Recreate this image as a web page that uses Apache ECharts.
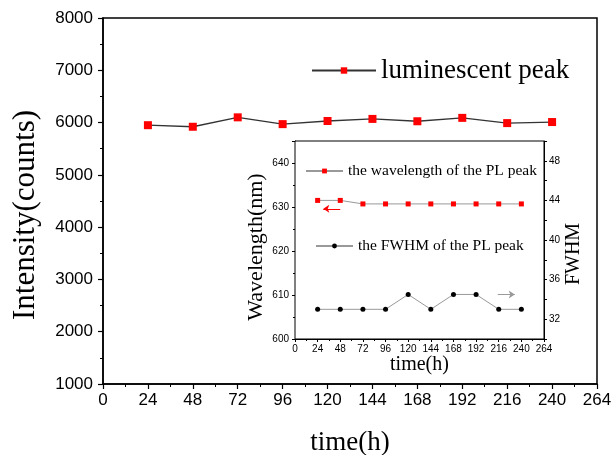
<!DOCTYPE html>
<html>
<head>
<meta charset="utf-8">
<script src="https://cdn.jsdelivr.net/npm/echarts@6/dist/echarts.min.js"></script>
<style>html,body{margin:0;padding:0;background:#fff}#c{width:612px;height:455px}</style>
</head>
<body>
<div id="c"></div>
<script>
// ---- data ----
const timeHours = [24, 48, 72, 96, 120, 144, 168, 192, 216, 240];
const intensity = [5950, 5920, 6100, 5970, 6030, 6070, 6025, 6090, 5990, 6010];
const wavelength = [631.5, 631.5, 630.7, 630.7, 630.7, 630.7, 630.7, 630.7, 630.7, 630.7];
const fwhm = [33, 33, 33, 33, 34.5, 33, 34.5, 34.5, 33, 33];
const mainSeriesName = 'luminescent peak';
const waveSeriesName = 'the wavelength of the PL peak';
const fwhmSeriesName = 'the FWHM of the PL peak';
// annotation arrows (data space): [from, to]
const arrowWave = [[48, 629.6], [30, 629.6]];
const arrowFwhm = [[215, 34.5], [233, 34.5]];

const serif = 'Liberation Serif, Times New Roman, serif';
const sans = 'Liberation Sans, Arial, sans-serif';

const pair = (xs, ys) => xs.map((x, i) => [x, ys[i]]);

const chart = echarts.init(document.getElementById('c'), null, {renderer: 'canvas'});
chart.setOption({
  animation: false,
  backgroundColor: '#fff',
  grid: [
    {left: 103, right: 15, top: 18, bottom: 71, show: true, borderColor: '#000', borderWidth: 1.5,
     backgroundColor: 'transparent', containLabel: false, outerBoundsMode: 'none'},
    {left: 295, right: 68, top: 141, bottom: 116, show: true, borderColor: '#000', borderWidth: 1,
     backgroundColor: '#fff', z: 5, containLabel: false, outerBoundsMode: 'none'}
  ],
  legend: [
    {
      data: [mainSeriesName], left: 306, top: 52, itemWidth: 64, itemHeight: 8,
      textStyle: {fontFamily: serif, fontSize: 27, color: '#000'}
    },
    {
      data: [waveSeriesName], left: 300, top: 158, itemWidth: 37, itemHeight: 6,
      textStyle: {fontFamily: serif, fontSize: 15.5, color: '#000'}, z: 10
    },
    {
      data: [fwhmSeriesName], left: 310, top: 233, itemWidth: 37, itemHeight: 6,
      textStyle: {fontFamily: serif, fontSize: 15.5, color: '#000'}, z: 10
    }
  ],
  xAxis: [
    {
      gridIndex: 0, type: 'value', min: 0, max: 264, interval: 24,
      name: 'time(h)', nameLocation: 'middle', nameGap: 45,
      nameTextStyle: {fontFamily: serif, fontSize: 27, color: '#000'},
      axisLine: {lineStyle: {color: '#000', width: 1.5}},
      axisTick: {show: true, inside: false, length: 5, lineStyle: {color: '#000', width: 1.2}},
      minorTick: {show: true, splitNumber: 2, length: 3, lineStyle: {color: '#000', width: 1}},
      axisLabel: {fontFamily: sans, fontSize: 17, color: '#000', margin: 8},
      splitLine: {show: false}
    },
    {
      gridIndex: 1, type: 'value', min: 0, max: 264, interval: 24,
      name: 'time(h)', nameLocation: 'middle', nameGap: 13,
      nameTextStyle: {fontFamily: serif, fontSize: 20, color: '#000'},
      axisLine: {lineStyle: {color: '#000', width: 1}},
      axisTick: {show: true, inside: false, length: 3, lineStyle: {color: '#000'}},
      minorTick: {show: true, splitNumber: 2, length: 2, lineStyle: {color: '#000'}},
      axisLabel: {fontFamily: sans, fontSize: 10, color: '#000', margin: 5},
      splitLine: {show: false}
    }
  ],
  yAxis: [
    {
      gridIndex: 0, type: 'value', min: 1000, max: 8000, interval: 1000,
      name: 'Intensity(counts)', nameLocation: 'middle', nameGap: 62,
      nameTextStyle: {fontFamily: serif, fontSize: 31, color: '#000', padding: [0, 28, 0, 0]},
      axisLine: {lineStyle: {color: '#000', width: 1.5}},
      axisTick: {show: true, inside: false, length: 5, lineStyle: {color: '#000', width: 1.2}},
      minorTick: {show: true, splitNumber: 2, length: 3, lineStyle: {color: '#000', width: 1}},
      axisLabel: {fontFamily: sans, fontSize: 17, color: '#000', margin: 10, formatter: v => String(v)},
      splitLine: {show: false}
    },
    {
      gridIndex: 1, type: 'value', min: 600, max: 645, interval: 10,
      name: 'Wavelength(nm)', nameLocation: 'middle', nameGap: 28,
      nameTextStyle: {fontFamily: serif, fontSize: 22, color: '#000', padding: [0, 14, 0, 0]},
      axisLine: {lineStyle: {color: '#000', width: 1}},
      axisTick: {show: true, inside: false, length: 3, lineStyle: {color: '#000'}},
      minorTick: {show: true, splitNumber: 2, length: 2, lineStyle: {color: '#000'}},
      axisLabel: {fontFamily: sans, fontSize: 10, color: '#000', margin: 6, showMaxLabel: false, formatter: v => String(v)},
      splitLine: {show: false}
    },
    {
      gridIndex: 1, type: 'value', position: 'right', min: 30, max: 50, interval: 2,
      name: 'FWHM', nameLocation: 'middle', nameGap: 20,
      nameTextStyle: {fontFamily: serif, fontSize: 20, color: '#000', padding: [0, 28, 0, 0]},
      axisLine: {show: true, lineStyle: {color: '#000', width: 1}},
      axisTick: {show: true, inside: false, length: 3, lineStyle: {color: '#000'}},
      axisLabel: {
        fontFamily: sans, fontSize: 10, color: '#000', margin: 5,
        formatter: v => (v % 4 === 0 && v < 50) ? String(v) : ''
      },
      splitLine: {show: false}
    }
  ],
  series: [
    {
      name: mainSeriesName, type: 'line', xAxisIndex: 0, yAxisIndex: 0,
      data: pair(timeHours, intensity),
      symbol: 'rect', symbolSize: 8,
      itemStyle: {color: '#ff0000'},
      lineStyle: {color: '#333', width: 1.3}
    },
    {
      name: waveSeriesName, type: 'line', xAxisIndex: 1, yAxisIndex: 1, z: 6,
      data: pair(timeHours, wavelength),
      symbol: 'rect', symbolSize: 5,
      itemStyle: {color: '#ff0000'},
      lineStyle: {color: '#999', width: 1},
      markLine: {
        silent: true, symbol: ['none', 'arrow'], symbolSize: 6,
        label: {show: false},
        lineStyle: {color: '#ff0000', type: 'solid', width: 1},
        data: [[{coord: arrowWave[0]}, {coord: arrowWave[1]}]]
      }
    },
    {
      name: fwhmSeriesName, type: 'line', xAxisIndex: 1, yAxisIndex: 2, z: 6,
      data: pair(timeHours, fwhm),
      symbol: 'circle', symbolSize: 5,
      itemStyle: {color: '#000'},
      lineStyle: {color: '#999', width: 1},
      markLine: {
        silent: true, symbol: ['none', 'arrow'], symbolSize: 6,
        label: {show: false},
        lineStyle: {color: '#999', type: 'solid', width: 1},
        data: [[{coord: arrowFwhm[0]}, {coord: arrowFwhm[1]}]]
      }
    }
  ]
});
</script>
</body>
</html>
